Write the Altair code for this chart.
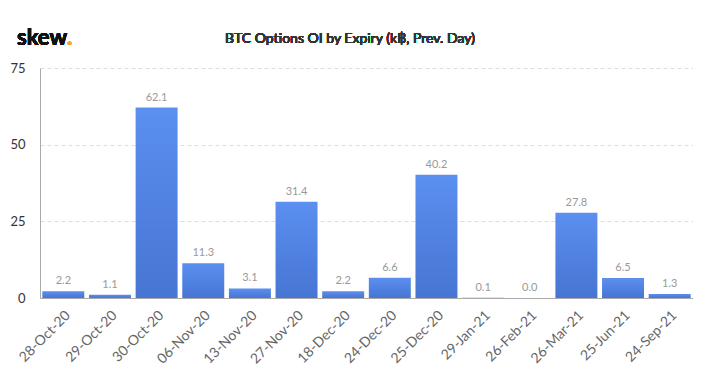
import altair as alt
import pandas as pd

expiries = ["28-Oct-20", "29-Oct-20", "30-Oct-20", "06-Nov-20", "13-Nov-20", "27-Nov-20",
            "18-Dec-20", "24-Dec-20", "25-Dec-20", "29-Jan-21", "26-Feb-21", "26-Mar-21",
            "25-Jun-21", "24-Sep-21"]
oi = [2.2, 1.1, 62.1, 11.3, 3.1, 31.4, 2.2, 6.6, 40.2, 0.1, 0.0, 27.8, 6.5, 1.3]
y_ticks = [0, 25, 50, 75]

df = pd.DataFrame({"expiry": expiries, "oi": oi})

font = "Lato"
x_enc = alt.X("expiry:N", sort=expiries, title=None,
              scale=alt.Scale(paddingInner=0.1, paddingOuter=0.05),
              axis=alt.Axis(labelAngle=-45, labelFont=font, labelFontSize=14,
                            labelColor="#666", domainColor="#aaa", ticks=False,
                            labelPadding=10))
y_enc = alt.Y("oi:Q", title=None, scale=alt.Scale(domain=[0, 75], nice=False),
              axis=alt.Axis(values=y_ticks, labelFont=font, labelFontSize=13,
                            labelColor="#333", domainColor="#aaa", ticks=False,
                            labelPadding=15, gridDash=[4, 3], gridColor="#ddd"))

bars = alt.Chart(df).mark_bar(
    color=alt.Gradient(gradient="linear", x1=0, x2=0, y1=0, y2=1,
                       stops=[alt.GradientStop(color="#5b8ff0", offset=0),
                              alt.GradientStop(color="#4775d3", offset=1)])
).encode(x=x_enc, y=y_enc)

labels = alt.Chart(df).mark_text(dy=-10, font=font, fontSize=11, color="#999").encode(
    x=alt.X("expiry:N", sort=expiries), y="oi:Q", text=alt.Text("oi:Q", format=".1f"))

title = alt.Chart(df).mark_text(text="BTC Options OI by Expiry (k฿, Prev. Day)", font=font,
                                fontSize=14, color="#333", align="center",
                                baseline="alphabetic").encode(
    x=alt.value(310), y=alt.value(-25))

logo = alt.Chart(df).mark_text(text="skew", font=font, fontSize=22, fontWeight="bold",
                               color="#111", align="left", baseline="alphabetic").encode(
    x=alt.value(-23), y=alt.value(-23))
dot = alt.Chart(df).mark_text(text=".", font=font, fontSize=22, fontWeight="bold",
                              color="#f0a830", align="left", baseline="alphabetic").encode(
    x=alt.value(27), y=alt.value(-23))

chart = alt.layer(bars, labels, title, logo, dot).properties(
    width=653, height=230,
    autosize=alt.AutoSizeParams(type="none"),
    padding={"left": 32, "top": 60, "right": 0, "bottom": 71},
).configure_view(stroke=None).configure_axisY(domain=True)

chart.save("out.html", embed_options={"renderer": "svg", "actions": False})
